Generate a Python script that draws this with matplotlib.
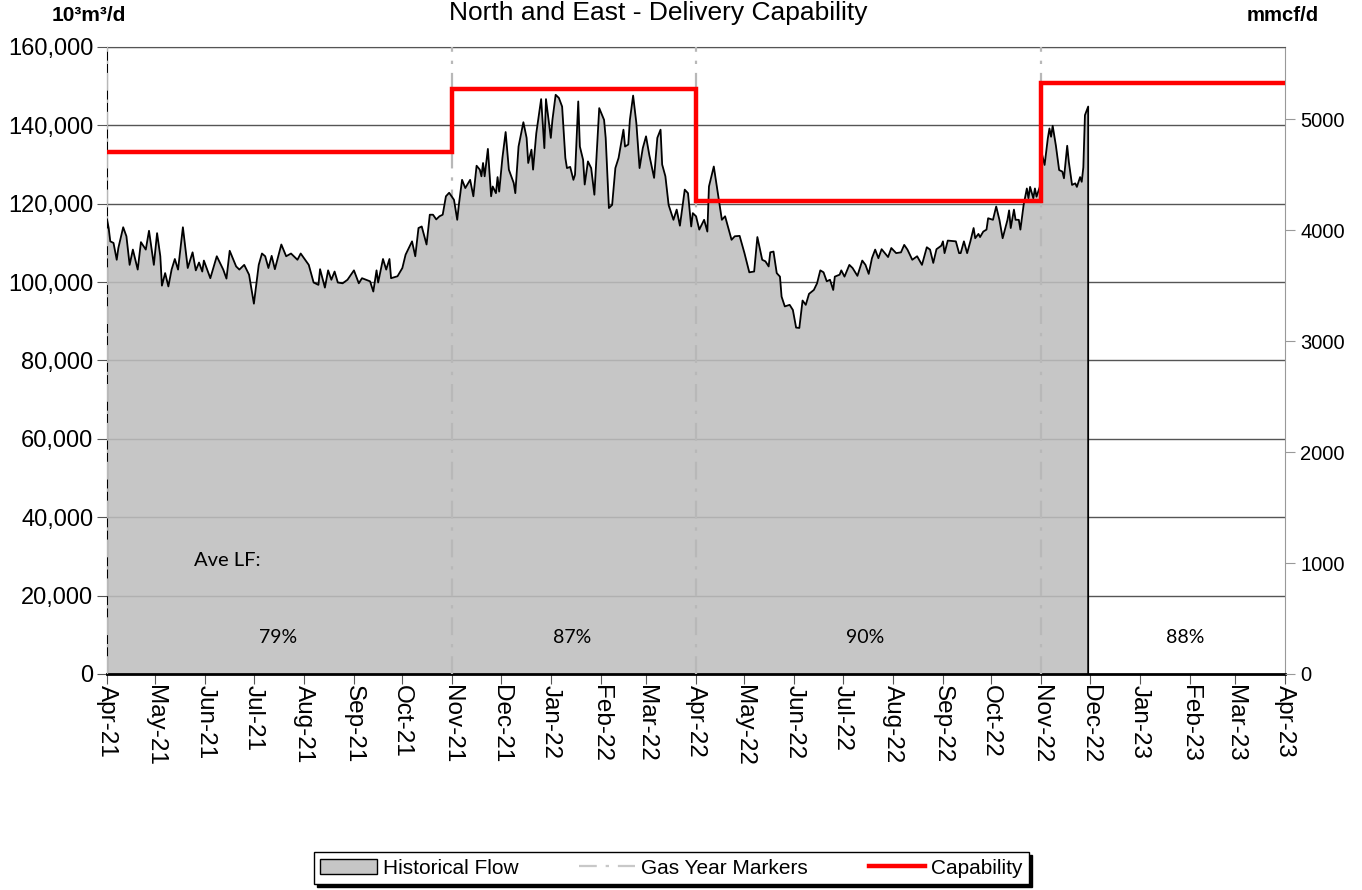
import numpy as np
import pandas as pd
import matplotlib
matplotlib.use("Agg")
import matplotlib.pyplot as plt
import matplotlib.dates as mdates
from matplotlib.patches import Patch
from matplotlib.lines import Line2D
from matplotlib.ticker import FuncFormatter

plt.rcParams['font.family'] = ['Liberation Sans', 'DejaVu Sans']

# days since 2021-04-01, flow in 10^3 m3/d (thousands)
flow_day = [
    0, 1, 2, 4, 6, 7, 10, 12, 14, 16, 19, 21, 24, 26, 29, 31, 33, 34, 36, 38,
    40, 42, 44, 47, 50, 53, 55, 57, 59, 60, 64, 68, 72, 74, 76, 80, 82, 85, 88, 91,
    94, 96, 98, 100, 102, 104, 108, 111, 114, 118, 120, 125, 128, 131, 132, 135, 137, 139, 141, 143,
    146, 149, 153, 156, 158, 163, 165, 167, 168, 171, 173, 175, 176, 180, 183, 185, 189, 191, 193, 195,
    198, 200, 202, 204, 206, 208, 210, 212,
    215, 217, 218, 220, 222, 225, 227, 229, 231, 232, 233, 234, 236, 238, 239, 241, 242, 243, 245, 247,
    249, 252, 253, 255, 258, 260, 261, 263, 264, 266, 269, 271, 272, 275, 276, 278, 280, 282, 284, 285,
    287, 289, 290, 292, 293, 295, 296, 298, 300, 302, 305, 308, 309, 311, 313, 315, 317, 320, 321, 323,
    324, 326, 328, 330, 332, 334, 336, 339, 341, 343, 344, 346, 348, 351, 353, 355, 358, 360, 362, 363,
    365, 367, 370, 372, 373, 376,
    379, 381, 383, 385, 387, 389, 392, 395, 398, 401, 403, 406, 408, 410, 411, 413, 415, 417, 418, 420,
    423, 425, 427, 429, 431, 433, 435, 438, 440, 442, 444, 446, 448, 450, 451, 454, 455, 457, 460, 462,
    465, 468, 470, 472, 474, 476, 478, 480, 484, 486, 489, 492, 494, 496, 499, 502, 505, 508, 510, 512,
    514, 517, 518, 519, 521, 526, 528, 529, 531, 533, 535, 537, 538, 540, 541, 543, 545, 546, 549, 551,
    553, 555, 558, 559, 560, 562, 563, 565, 566, 568,
    570, 571, 572, 574, 575, 576, 578, 579, 581, 583, 584, 585, 586, 588, 590, 592, 593, 595, 596, 598,
    600, 601, 603, 604, 605, 606, 608, 608,
]
flow_kcm = [
    116.0, 113.8, 110.4, 110.0, 105.7, 108.7, 114.0, 111.7, 104.4, 108.3, 103.2, 110.2, 108.3, 113.1, 104.4, 112.5, 106.6, 99.1, 102.3, 98.9,
    103.2, 105.9, 103.2, 114.0, 103.6, 107.6, 103.0, 105.0, 102.7, 105.5, 101.0, 106.6, 103.2, 100.9, 108.0, 104.0, 103.2, 104.4, 101.9, 94.5,
    104.4, 107.3, 106.6, 103.6, 106.7, 103.3, 109.6, 106.6, 107.3, 105.7, 107.3, 104.4, 99.9, 99.3, 103.3, 98.6, 103.0, 100.6, 102.7, 99.9,
    99.7, 100.6, 103.0, 99.7, 101.0, 100.2, 97.6, 103.0, 99.9, 105.9, 103.2, 105.9, 101.0, 101.5, 103.6, 107.0, 110.4, 106.6, 113.8, 114.2,
    109.6, 117.2, 117.2, 116.0, 116.8, 117.2, 121.9, 122.8,
    121.0, 115.9, 119.7, 126.1, 124.0, 126.1, 121.9, 129.7, 128.7, 127.0, 130.4, 127.0, 134.0, 121.9, 124.4, 122.7, 126.8, 123.1, 131.7, 138.3,
    128.7, 125.3, 122.7, 134.6, 140.8, 136.8, 130.4, 133.8, 128.7, 138.0, 146.7, 134.2, 146.7, 136.8, 141.4, 147.8, 147.0, 144.8, 131.7, 129.1,
    129.4, 126.1, 127.4, 146.1, 134.6, 131.2, 124.9, 130.8, 129.1, 122.3, 144.4, 141.4, 136.8, 118.9, 119.7, 129.1, 131.7, 138.9, 134.6, 135.1,
    141.4, 147.6, 140.6, 129.1, 134.2, 137.2, 132.5, 126.6, 136.8, 138.9, 130.0, 127.0, 119.7, 115.9, 118.5, 114.4, 123.6, 122.7, 114.2, 117.6,
    116.8, 113.4, 115.9, 112.9, 124.4, 129.5,
    121.4, 115.9, 116.8, 113.8, 110.8, 111.7, 111.8, 107.4, 102.5, 102.7, 111.5, 105.7, 105.3, 104.0, 107.6, 107.8, 102.3, 101.4, 96.3, 93.8,
    94.2, 92.9, 88.4, 88.3, 95.3, 94.2, 97.0, 98.0, 99.7, 103.0, 102.5, 100.2, 100.6, 98.0, 101.4, 101.9, 103.0, 101.4, 104.4, 103.6,
    101.6, 105.5, 104.4, 102.1, 106.1, 108.3, 106.1, 108.4, 106.4, 108.7, 107.4, 107.6, 109.5, 108.3, 105.7, 106.6, 104.4, 108.9, 108.3, 104.9,
    108.4, 109.3, 110.4, 107.4, 110.6, 110.4, 107.4, 107.4, 110.4, 107.4, 110.4, 113.8, 111.2, 112.3, 111.5, 112.9, 113.4, 116.3, 115.9, 119.3,
    115.9, 111.2, 115.9, 118.3, 113.8, 118.5, 115.9, 115.9, 113.4, 119.7,
    123.9, 121.4, 124.3, 121.4, 123.9, 121.8, 124.3, 133.3, 129.9, 136.7, 139.2, 137.1, 139.9, 134.8, 128.6, 128.2, 126.5, 134.8, 130.7, 124.8,
    125.2, 124.3, 126.8, 125.6, 129.3, 142.6, 144.8, 0.0,
]

cap_dates = ['2021-04-01', '2021-11-01', '2022-04-01', '2022-11-01', '2023-04-01']
cap_values = [133300, 149300, 120800, 150900, 150900]
gas_year_markers = ['2021-04-01', '2021-11-01', '2022-04-01', '2022-11-01']

lf_dates = ['2021-07-16', '2022-01-14', '2022-07-15', '2023-01-29']
lf_labels = ['79%', '87%', '90%', '88%']

MMCF_PER_KCM = 35.3147 / 1000.0  # 10^3 m3/d -> mmcf/d

start = pd.Timestamp('2021-04-01')
flow_dates = start + pd.to_timedelta(flow_day, unit='D')
flow = np.array(flow_kcm) * 1000

fig = plt.figure(figsize=(13.62, 8.9), dpi=100)
ax = fig.add_axes([0.0786, 0.2427, 0.8649, 0.7045])

# gridlines
for yv in range(20000, 160001, 20000):
    ax.axhline(yv, color='#555555', lw=1.0, zorder=1)

# historical flow area
ax.fill_between(flow_dates, 0, flow, color='#bebebe', alpha=0.88, lw=0, zorder=2)
ax.plot(flow_dates, flow, color='black', lw=1.3, zorder=4)

# gas year markers
for d in gas_year_markers:
    ax.axvline(pd.Timestamp(d), color='#b8b8b8', lw=1.6,
               linestyle=(0, (8, 4, 1.5, 4)), zorder=3)

# capability step
ax.step(pd.to_datetime(cap_dates), cap_values, where='post', color='#ff0000',
        lw=3.2, zorder=5, solid_joinstyle='miter')

ax.set_xlim(pd.Timestamp('2021-04-01'), pd.Timestamp('2023-04-01'))
ax.set_ylim(0, 160000)
ax.set_yticks(range(0, 160001, 20000))
ax.yaxis.set_major_formatter(FuncFormatter(lambda v, p: f'{int(v):,}'))
ax.tick_params(axis='y', labelsize=17, length=7, color='#555555', pad=3)

ax.xaxis.set_major_locator(mdates.MonthLocator())
ax.xaxis.set_major_formatter(mdates.DateFormatter('%b-%y'))
ax.tick_params(axis='x', labelsize=17.5, length=7, color='#555555', rotation=270, pad=1)
for lbl in ax.get_xticklabels():
    lbl.set_va('top')
    lbl.set_ha('center')

ax.spines['left'].set_color('black')
ax.spines['bottom'].set_color('black')
ax.spines['bottom'].set_linewidth(2.0)
ax.spines['top'].set_color('#555555')
ax.spines['right'].set_color('#999999')

# right axis in mmcf/d
ax2 = ax.twinx()
ax2.set_ylim(0, 160000 * MMCF_PER_KCM)
ax2.set_yticks(range(0, 5001, 1000))
ax2.tick_params(axis='y', labelsize=14.5, length=7, color='#999999', pad=4)
for s in ax2.spines.values():
    s.set_visible(False)

# text
fig.text(0.483, 0.985, 'North and East - Delivery Capability', ha='center', va='center', fontsize=19)
fig.text(0.038, 0.983, '10³m³/d', ha='left', va='center', fontsize=15, fontweight='bold')
fig.text(0.9155, 0.983, 'mmcf/d', ha='left', va='center', fontsize=14.6, fontweight='bold')

ax.text(pd.Timestamp('2021-05-25'), 29000, 'Ave LF:', ha='left', va='center',
        fontsize=14.5, family=['Lato', 'DejaVu Sans'], zorder=6)
for d, t in zip(lf_dates, lf_labels):
    ax.text(pd.Timestamp(d), 9400, t, ha='center', va='center', fontsize=14,
            family=['Lato', 'DejaVu Sans'], zorder=6)

handles = [
    Patch(facecolor='#c6c6c6', edgecolor='black', lw=1.0),
    Line2D([0], [0], color='#c8c8c8', lw=1.6, linestyle=(0, (8, 4, 1.5, 4))),
    Line2D([0], [0], color='#ff0000', lw=3.2),
]
leg = fig.legend(handles, ['Historical Flow', 'Gas Year Markers', 'Capability'],
                 loc='center', bbox_to_anchor=(0.493, 0.0245), ncol=3, fontsize=15,
                 frameon=True, fancybox=False, shadow={'color': 'black', 'alpha': 1.0},
                 edgecolor='black', borderpad=0.3, handlelength=2.7,
                 columnspacing=2.9, handletextpad=0.3)
leg.get_frame().set_linewidth(1.0)

fig.savefig('out.png', dpi=100)
